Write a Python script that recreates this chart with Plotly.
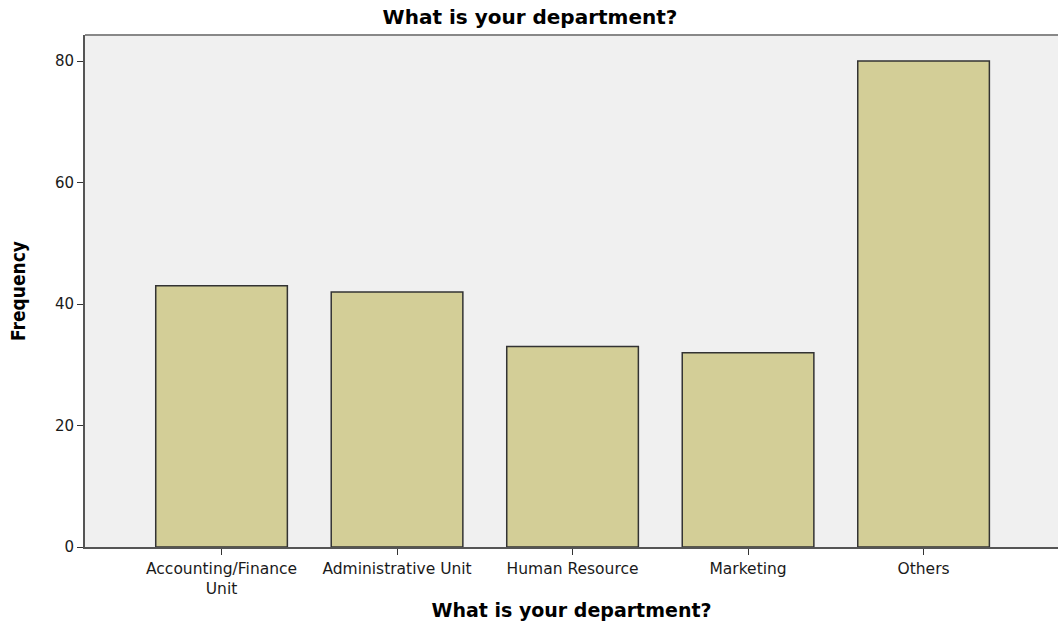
import plotly.graph_objects as go

categories = ["Accounting/Finance<br>Unit", "Administrative Unit", "Human Resource", "Marketing", "Others"]
frequency = [43, 42, 33, 32, 80]
y_ticks = [0, 20, 40, 60, 80]

fig = go.Figure(go.Bar(
    x=list(range(len(categories))),
    y=frequency,
    marker=dict(color="#d3ce97", line=dict(color="#333333", width=1.5)),
    width=0.75,
))

fig.update_layout(
    width=1060, height=623,
    margin=dict(l=85, r=2, t=35, b=76),
    paper_bgcolor="white",
    plot_bgcolor="#f0f0f0",
    showlegend=False,
    title=dict(text="<b>What is your department?</b>", x=0.5, xanchor="center",
               y=0.973, yanchor="middle",
               font=dict(family="DejaVu Sans", size=20, color="black")),
    font=dict(family="DejaVu Sans", size=15, color="#222222"),
)

fig.update_xaxes(
    range=[-0.778, 4.766],
    tickvals=list(range(len(categories))),
    ticktext=categories,
    ticks="outside", ticklen=6, tickcolor="#333333",
    showline=True, linecolor="#555555", linewidth=2,
    showgrid=False, zeroline=False,
    title=dict(text="<b>What is your department?</b>",
               font=dict(family="DejaVu Sans", size=19, color="black"), standoff=7),
    tickfont=dict(family="DejaVu Sans", size=15.5, color="#1a1a1a"),
)
fig.update_yaxes(
    range=[0, 84.3],
    tickvals=y_ticks,
    ticks="outside", ticklen=6, tickcolor="#333333",
    showline=True, linecolor="#555555", linewidth=2,
    showgrid=False, zeroline=False,
    title=dict(text="<b>Frequency</b>",
               font=dict(family="Liberation Sans Narrow, DejaVu Sans Condensed, Liberation Sans", size=19, color="black"), standoff=24),
    tickfont=dict(family="DejaVu Sans", size=15, color="#1a1a1a"),
)

fig.add_shape(type="line", xref="paper", yref="paper", x0=0, x1=1, y0=1, y1=1,
              line=dict(color="#888888", width=2))

fig.write_html("out.html", config={"displayModeBar": False},
               post_script="document.body.style.margin='0';document.body.style.overflow='hidden';")
